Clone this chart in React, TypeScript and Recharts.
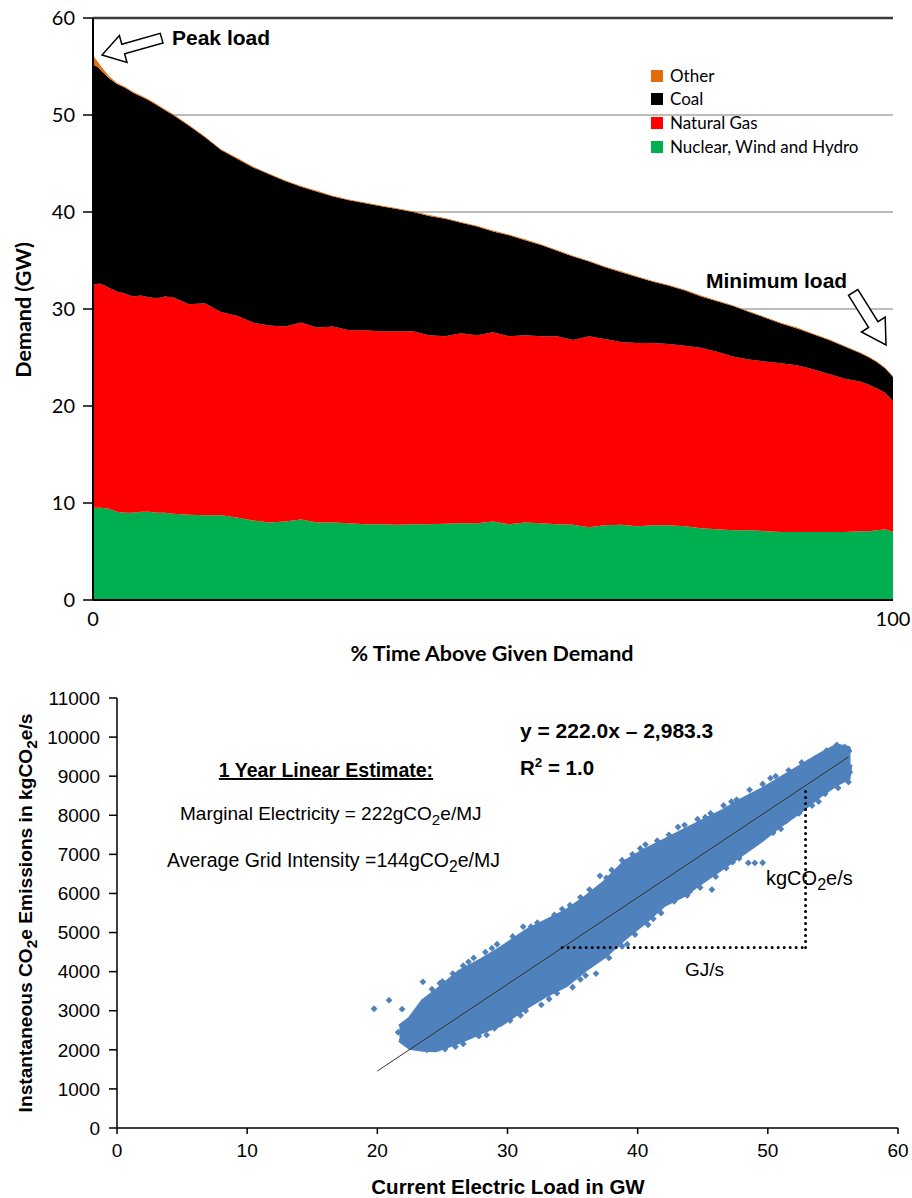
import React from "react";
import {
  AreaChart,
  Area,
  XAxis,
  YAxis,
  CartesianGrid,
  ReferenceLine,
  ComposedChart,
  Scatter,
  ZAxis,
} from "recharts";

// ---- top chart: load duration curve by source (GW) ----
const PCT = [
  0, 0.5, 1, 2, 3, 4, 5, 6, 7, 8, 9, 10, 12, 14, 16, 18, 20, 22, 24, 26, 28, 30, 32, 34, 36, 38, 40, 42,
  44, 46, 48, 50, 52, 54, 56, 58, 60, 62, 64, 66, 68, 70, 72, 74, 76, 78, 80, 82, 84, 86, 88, 90, 92, 94,
  96, 97, 98, 99, 100,
];
const NUCLEAR = [
  9.5, 9.5, 9.5, 9.4, 9.1, 9.0, 9.0, 9.1, 9.1, 9.0, 9.0, 8.9, 8.8, 8.75, 8.75, 8.5, 8.2, 8.0, 8.1, 8.3,
  8.0, 8.0, 7.9, 7.8, 7.8, 7.75, 7.8, 7.8, 7.85, 7.9, 7.9, 8.1, 7.8, 8.0, 7.9, 7.8, 7.75, 7.5, 7.7, 7.75,
  7.6, 7.7, 7.7, 7.6, 7.4, 7.3, 7.2, 7.2, 7.1, 7.0, 7.0, 7.0, 7.0, 7.0, 7.1, 7.1, 7.2, 7.3, 7.0,
];
const GAS = [
  23.0, 23.1, 23.1, 22.8, 22.7, 22.6, 22.3, 22.3, 22.1, 22.1, 22.3, 22.3, 21.7, 21.85, 20.95, 20.8, 20.4,
  20.3, 20.1, 20.3, 20.1, 20.2, 19.9, 20.0, 19.9, 19.95, 19.9, 19.5, 19.35, 19.6, 19.4, 19.5, 19.4, 19.3,
  19.3, 19.4, 19.05, 19.7, 19.2, 18.85, 18.9, 18.8, 18.7, 18.6, 18.6, 18.3, 17.9, 17.6, 17.5, 17.4, 17.2,
  16.8, 16.3, 15.8, 15.4, 15.1, 14.6, 14.1, 13.5,
];
const COAL = [
  22.7, 22.4, 22.0, 21.6, 21.4, 21.2, 21.0, 20.5, 20.3, 19.9, 19.2, 18.8, 18.4, 17.1, 16.7, 16.2, 16.0,
  15.6, 15.0, 14.0, 14.0, 13.4, 13.4, 13.1, 12.9, 12.6, 12.3, 12.3, 12.1, 11.4, 11.2, 10.4, 10.4, 9.8, 9.4,
  8.8, 8.6, 7.7, 7.4, 7.2, 6.8, 6.3, 6.0, 5.7, 5.3, 5.2, 5.2, 4.9, 4.5, 4.1, 3.8, 3.6, 3.5, 3.3, 2.9, 2.8,
  2.7, 2.5, 2.5,
];
const OTHER = [
  0.9, 0.6, 0.4, 0.2, 0.1, 0.1, 0.1, 0.1, 0.1, 0.1, 0.1, 0.1, 0.08, 0.08, 0.08, 0.08, 0.08, 0.08, 0.08,
  0.08, 0.08, 0.08, 0.08, 0.08, 0.08, 0.08, 0.08, 0.08, 0.08, 0.08, 0.08, 0.08, 0.08, 0.08, 0.08, 0.08,
  0.08, 0.08, 0.08, 0.08, 0.08, 0.08, 0.08, 0.08, 0.08, 0.08, 0.08, 0.08, 0.08, 0.08, 0.08, 0.08, 0.08,
  0.08, 0.08, 0.08, 0.08, 0.08, 0.08,
];
const DEMAND_TICKS = [0, 10, 20, 30, 40, 50, 60];

const SOURCES = [
  { key: "other", name: "Other", color: "#E46C0A" },
  { key: "coal", name: "Coal", color: "#000000" },
  { key: "gas", name: "Natural Gas", color: "#FF0000" },
  { key: "nuclear", name: "Nuclear, Wind and Hydro", color: "#00B050" },
];

// ---- bottom chart: emissions vs load ----
const BAND_GW = [
  21.7, 22.5, 23.5, 24.5, 26.3, 28.0, 29.5, 31.5, 33.0, 34.5, 36.0, 37.5, 39.0, 40.5, 42.0, 43.5, 45.0,
  46.5, 48.0, 49.5, 51.0, 52.5, 54.0, 55.3, 56.2, 56.35,
];
const BAND_LOW = [
  2250, 2050, 2000, 1990, 2200, 2450, 2650, 3100, 3400, 3650, 4050, 4400, 4850, 5250, 5700, 5950, 6300,
  6650, 7000, 7350, 7750, 8100, 8500, 8800, 8950, 9300,
];
const BAND_HIGH = [
  2600, 2800, 3250, 3500, 4000, 4300, 4600, 5050, 5300, 5550, 5900, 6300, 6800, 7100, 7350, 7600, 7850,
  8100, 8400, 8650, 8950, 9250, 9550, 9780, 9720, 9600,
];
const OUT_GW = [
  19.75, 20.9, 21.9, 23.5, 21.6, 21.9, 22.3, 22.6, 24.2, 25.0, 25.8, 26.6, 27.4, 28.3, 29.2, 30.4, 31.2,
  32.3, 33.6, 34.8, 35.6, 36.3, 37.1, 38.0, 38.8, 39.6, 40.6, 41.5, 42.4, 43.6, 44.6, 45.6, 46.6, 47.6,
  48.6, 49.6, 50.6, 51.6, 52.6, 53.6, 54.5, 55.3, 55.9, 23.8, 25.2, 26.6, 27.8, 29.0, 30.2, 31.4, 32.6,
  33.8, 35.0, 36.0, 36.8, 37.8, 38.8, 39.8, 40.8, 41.8, 42.8, 43.8, 44.8, 45.7, 46.0, 46.8, 47.8, 48.5,
  49.0, 49.6, 50.4, 51.4, 52.4, 53.4, 54.4, 55.4, 56.2, 56.3, 24.8, 27.0, 28.8, 31.8, 34.2, 37.6, 40.2,
  43.1, 45.2, 47.2, 50.2, 53.1, 26.0, 28.4, 31.0, 33.2, 35.6, 39.2, 41.2, 44.0, 47.3, 51.0, 53.9,
];
const OUT_CO2 = [
  3050, 3270, 3040, 3740, 2450, 2250, 2150, 2350, 3550, 3750, 3950, 4150, 4350, 4500, 4700, 4900, 5150,
  5250, 5450, 5700, 5900, 6100, 6450, 6600, 6850, 7000, 7250, 7350, 7500, 7750, 7900, 8050, 8250, 8400,
  8650, 8800, 9000, 9150, 9350, 9450, 9650, 9800, 9750, 2000, 2020, 2150, 2350, 2550, 2750, 3000, 3150,
  3450, 3600, 3900, 3950, 4350, 4650, 4950, 5200, 5500, 5800, 5950, 6150, 6100, 6430, 6650, 6900, 6780,
  6780, 6785, 7550, 7850, 8050, 8250, 8550, 8700, 8850, 9100, 3700, 4250, 4600, 5150, 5600, 6400, 7150,
  7700, 7950, 8350, 8950, 9350, 2080, 2380, 2880, 3300, 3800, 4700, 5350, 6050, 6800, 7650, 8350,
];
const FIT_LINE = [
  { x: 20, y: 1457 },
  { x: 56.2, y: 9493 },
];
const SLOPE_RUN = [
  { x: 34.2, y: 4620 },
  { x: 52.9, y: 4620 },
];
const SLOPE_RISE = [
  { x: 52.9, y: 4620 },
  { x: 52.9, y: 8760 },
];
const LOAD_TICKS = [0, 10, 20, 30, 40, 50, 60];
const CO2_TICKS = [0, 1000, 2000, 3000, 4000, 5000, 6000, 7000, 8000, 9000, 10000, 11000];

const demandRows = PCT.map((pct, i) => ({
  pct,
  nuclear: NUCLEAR[i],
  gas: GAS[i],
  coal: COAL[i],
  other: OTHER[i],
}));
const bandRows = BAND_GW.map((gw, i) => ({ gw, range: [BAND_LOW[i], BAND_HIGH[i]] }));
const outlierRows = OUT_GW.map((gw, i) => ({ gw, co2: OUT_CO2[i] }));

const LATO = "Lato, 'Noto Sans', sans-serif";
const ARIAL = "'Liberation Sans', Arial, sans-serif";
const BLUE = "#4F81BD";

// small diamond marker, like Excel's default scatter point
function Dot(props: any) {
  const { cx, cy } = props;
  if (cx == null || cy == null) return null;
  const r = 3.4;
  return (
    <polygon
      points={`${cx},${cy - r} ${cx + r},${cy} ${cx},${cy + r} ${cx - r},${cy}`}
      fill={BLUE}
    />
  );
}

// subscript digit followed by the rest of the string
function Sub({ n, after }: { n: string; after: string }) {
  return (
    <>
      <tspan dy={5} fontSize="0.8em">
        {n}
      </tspan>
      <tspan dy={-5}>{after}</tspan>
    </>
  );
}

function Overlay() {
  return (
    <svg
      width={912}
      height={1198}
      style={{ position: "absolute", left: 0, top: 0, pointerEvents: "none" }}
    >
      {/* top chart annotations */}
      <polygon
        points="102,55 127,62.5 124.6,53.8 163,42.9 160.2,33.3 121.8,44.2 119.4,35.5"
        fill="#fff"
        stroke="#000"
        strokeWidth={1.5}
      />
      <polygon
        points="886,345 885.2,317.2 878,321.7 857.9,289.5 848.5,295.3 868.6,327.5 861.4,332"
        fill="#fff"
        stroke="#000"
        strokeWidth={1.5}
      />
      <text x={172} y={45} fontFamily={ARIAL} fontWeight="bold" fontSize={21}>
        Peak load
      </text>
      <text x={706} y={288} fontFamily={ARIAL} fontWeight="bold" fontSize={21}>
        Minimum load
      </text>
      <text
        transform="translate(31,310) rotate(-90)"
        textAnchor="middle"
        fontFamily={LATO}
        fontWeight="bold"
        fontSize={21.5}
      >
        Demand (GW)
      </text>
      <text x={492} y={661} textAnchor="middle" fontFamily={LATO} fontWeight="bold" fontSize={21.5}>
        % Time Above Given Demand
      </text>
      {SOURCES.map((s, i) => (
        <g key={s.key}>
          <rect x={651} y={[70, 93, 117, 141][i]} width={12} height={12} fill={s.color} />
          <text x={670} y={[82, 105, 129, 153][i]} fontFamily={LATO} fontSize={17} fill="#000">
            {s.name}
          </text>
        </g>
      ))}

      {/* bottom chart annotations */}
      <text
        x={326}
        y={777}
        textAnchor="middle"
        fontFamily={ARIAL}
        fontWeight="bold"
        fontSize={19.5}
        textDecoration="underline"
      >
        1 Year Linear Estimate:
      </text>
      <text x={180} y={820} fontFamily={ARIAL} fontSize={19}>
        Marginal Electricity = 222gCO<Sub n="2" after="e/MJ" />
      </text>
      <text x={167} y={867} fontFamily={ARIAL} fontSize={19.5}>
        Average Grid Intensity =144gCO<Sub n="2" after="e/MJ" />
      </text>
      <text x={520} y={738} fontFamily={ARIAL} fontWeight="bold" fontSize={21}>
        y = 222.0x – 2,983.3
      </text>
      <text x={520} y={775} fontFamily={ARIAL} fontWeight="bold" fontSize={20.5}>
        R
        <tspan dy={-8} fontSize="0.65em">
          2
        </tspan>
        <tspan dy={8}> = 1.0</tspan>
      </text>
      <text x={766} y={885} fontFamily={ARIAL} fontSize={20}>
        kgCO<Sub n="2" after="e/s" />
      </text>
      <text x={685} y={976} fontFamily={ARIAL} fontSize={19}>
        GJ/s
      </text>
      <text
        transform="translate(32,913) rotate(-90)"
        textAnchor="middle"
        fontFamily={ARIAL}
        fontWeight="bold"
        fontSize={19.2}
      >
        Instantaneous CO<Sub n="2" after="e Emissions in kgCO" />
        <Sub n="2" after="e/s" />
      </text>
      <text x={508} y={1194} textAnchor="middle" fontFamily={ARIAL} fontWeight="bold" fontSize={20.5}>
        Current Electric Load in GW
      </text>
    </svg>
  );
}

export default function App() {
  return (
    <div style={{ position: "absolute", left: 0, top: 0, width: 912, height: 1198, background: "#fff" }}>
      <div style={{ position: "absolute", left: 0, top: 0 }}>
        <AreaChart
          width={912}
          height={680}
          data={demandRows}
          margin={{ top: 18, right: 19, left: 0, bottom: 0 }}
        >
          <CartesianGrid vertical={false} stroke="#a6a6a6" strokeWidth={1.5} />
          <XAxis
            type="number"
            dataKey="pct"
            domain={[0, 100]}
            ticks={[0, 100]}
            height={80}
            tickLine={false}
            tickSize={0}
            tickMargin={12}
            axisLine={{ stroke: "#000", strokeWidth: 2 }}
            tick={{ fill: "#000", fontSize: 20, fontFamily: LATO }}
          />
          <YAxis
            type="number"
            domain={[0, 60]}
            ticks={DEMAND_TICKS}
            width={93}
            tickSize={10}
            tickMargin={8}
            axisLine={{ stroke: "#000", strokeWidth: 2 }}
            tickLine={{ stroke: "#000", strokeWidth: 1.5 }}
            tick={{ fill: "#000", fontSize: 20, fontFamily: LATO }}
          />
          <ReferenceLine y={60} stroke="#3a3a3a" strokeWidth={2.5} />
          <Area
            type="linear"
            dataKey="nuclear"
            stackId="load"
            fill="#00B050"
            fillOpacity={1}
            stroke="none"
            isAnimationActive={false}
          />
          <Area
            type="linear"
            dataKey="gas"
            stackId="load"
            fill="#FF0000"
            fillOpacity={1}
            stroke="none"
            isAnimationActive={false}
          />
          <Area
            type="linear"
            dataKey="coal"
            stackId="load"
            fill="#000000"
            fillOpacity={1}
            stroke="none"
            isAnimationActive={false}
          />
          <Area
            type="linear"
            dataKey="other"
            stackId="load"
            fill="#E46C0A"
            fillOpacity={1}
            stroke="none"
            isAnimationActive={false}
          />
        </AreaChart>
      </div>
      <div style={{ position: "absolute", left: 0, top: 680 }}>
        <ComposedChart
          width={912}
          height={518}
          data={bandRows}
          margin={{ top: 18, right: 14, left: 0, bottom: 0 }}
        >
          <XAxis
            type="number"
            dataKey="gw"
            domain={[0, 60]}
            ticks={LOAD_TICKS}
            height={70}
            tickSize={6}
            tickMargin={10}
            axisLine={{ stroke: "#000", strokeWidth: 1.5 }}
            tickLine={{ stroke: "#000", strokeWidth: 1.5 }}
            tick={{ fill: "#000", fontSize: 19, fontFamily: ARIAL }}
          />
          <YAxis
            type="number"
            domain={[0, 11000]}
            ticks={CO2_TICKS}
            width={117}
            tickSize={8}
            tickMargin={9}
            axisLine={{ stroke: "#000", strokeWidth: 1.5 }}
            tickLine={{ stroke: "#000", strokeWidth: 1.5 }}
            tick={{ fill: "#000", fontSize: 19, fontFamily: ARIAL }}
          />
          <ZAxis range={[30, 30]} />
          <Area
            type="linear"
            dataKey="range"
            fill={BLUE}
            fillOpacity={1}
            stroke={BLUE}
            strokeWidth={4}
            isAnimationActive={false}
          />
          <Scatter
            data={outlierRows}
            dataKey="co2"
            fill={BLUE}
            shape={<Dot />}
            isAnimationActive={false}
          />
          <ReferenceLine segment={FIT_LINE} stroke="#333" strokeWidth={1} />
          <ReferenceLine
            segment={SLOPE_RUN}
            stroke="#000"
            strokeWidth={3}
            strokeDasharray="0 6"
            strokeLinecap="round"
          />
          <ReferenceLine
            segment={SLOPE_RISE}
            stroke="#000"
            strokeWidth={3}
            strokeDasharray="0 6"
            strokeLinecap="round"
          />
        </ComposedChart>
      </div>
      <Overlay />
    </div>
  );
}
